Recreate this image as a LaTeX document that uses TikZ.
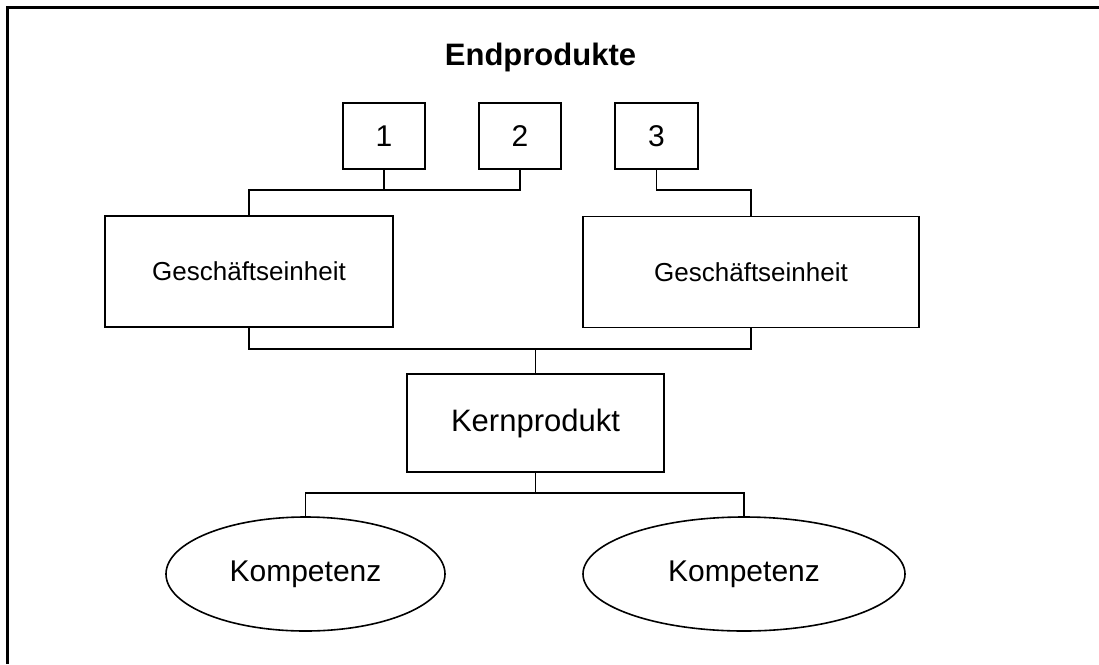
\documentclass[tikz,border=0pt]{standalone}
\usepackage{fontspec}
\setmainfont{Liberation Sans}
\usetikzlibrary{shapes.geometric}
\begin{document}
\begin{tikzpicture}[x=1pt,y=-1pt,
  thin line/.style={line width=1.6pt},
  numbox/.style={draw,thin line,minimum width=82pt,minimum height=66pt,inner sep=0pt,font=\fontsize{30}{36}\selectfont},
  unitbox/.style={draw,thin line,minimum height=111pt,inner sep=0pt,font=\fontsize{26}{31}\selectfont},
  kernbox/.style={draw,thin line,minimum width=257pt,minimum height=98pt,inner sep=0pt,font=\fontsize{31}{37}\selectfont},
  compell/.style={draw,thin line,ellipse,minimum height=114pt,inner sep=0pt,font=\fontsize{30}{36}\selectfont},
  conn/.style={thin line}]
\useasboundingbox (0,0) rectangle (1099,664);
\draw[line width=3pt] (1099,7.5) -- (7.5,7.5) -- (7.5,664);
\node[font=\bfseries\fontsize{31}{37}\selectfont,anchor=base] (title) at (540.5,65) {Endprodukte};
\node[numbox] (b1) at (384,136) {1};
\node[numbox] (b2) at (520,136) {2};
\node[numbox,minimum width=83pt] (b3) at (656.5,136) {3};
\node[unitbox,minimum width=288pt] (ge1) at (249,271.5) {Geschäftseinheit};
\node[unitbox,minimum width=336pt] (ge2) at (751,272) {Geschäftseinheit};
\node[kernbox] (kern) at (535.5,423) {Kernprodukt};
\node[compell,minimum width=279pt] (e1) at (305.5,574) {Kompetenz};
\node[compell,minimum width=322pt] (e2) at (744,574) {Kompetenz};
\coordinate (y1) at (0,190);
\coordinate (y2) at (0,349);
\coordinate (y3) at (0,493);
\draw[conn] (b2.south) |- (ge1.north |- y1) -- (ge1.north);
\draw[conn] (b1.south) -- (b1.south |- y1);
\draw[conn] (b3.south) |- (ge2.north |- y1) -- (ge2.north);
\draw[conn] (ge1.south) |- (ge2.south |- y2) -- (ge2.south);
\draw[conn] (kern.north) -- (kern.north |- y2);
\draw[conn] (e1.north) |- (e2.north |- y3) -- (e2.north);
\draw[conn] (kern.south) -- (kern.south |- y3);
\end{tikzpicture}
\end{document}
